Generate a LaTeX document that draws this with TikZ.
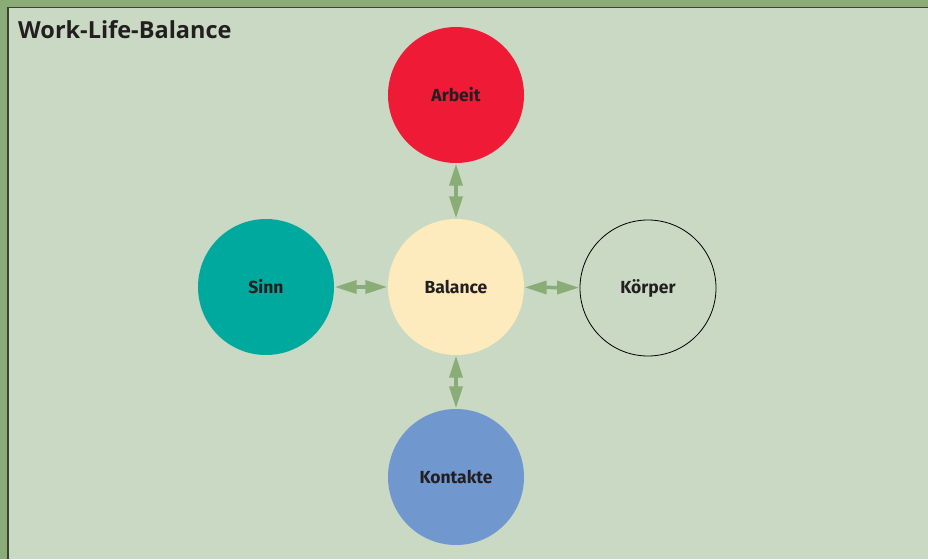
\documentclass[tikz,border=0pt]{standalone}
\usepackage{fontspec}
\setmainfont{Open Sans}
\newfontfamily\lblfont{Fira Sans}
\usetikzlibrary{arrows.meta}
\definecolor{bordgreen}{HTML}{8AAD78}
\definecolor{panel}{HTML}{C9D9C4}
\definecolor{darkline}{HTML}{3A4234}
\definecolor{arbeitred}{HTML}{EE1A36}
\definecolor{sinnteal}{HTML}{00A99D}
\definecolor{cream}{HTML}{FDEBBD}
\definecolor{kontblue}{HTML}{7098CF}
\definecolor{txt}{HTML}{231F20}
\definecolor{arrgreen}{HTML}{8AAD78}
\tikzset{
  circ/.style={circle, minimum size=136pt, inner sep=0pt, text=txt, font=\lblfont\bfseries\fontsize{17.5}{20}\selectfont},
  link/.style={draw=arrgreen, line width=3.5pt, {Triangle[length=22pt,width=13pt]}-{Triangle[length=22pt,width=13pt]}, shorten <=0.5pt, shorten >=0.5pt}
}
\begin{document}
\begin{tikzpicture}[x=1pt,y=-1pt]
\useasboundingbox (0,0) rectangle (928,559);
\fill[bordgreen] (0,0) rectangle (928,559);
\fill[panel] (8,8) rectangle (928,559);
\draw[darkline, line width=1.5pt] (8,559) -- (8,7.5) -- (928,7.5);
\node[anchor=west, text=txt, inner sep=0pt, font=\bfseries\fontsize{23.5}{26}\selectfont] (title) at (18,30) {Work-Life-Balance};
\node[circ, fill=arbeitred] (arbeit) at (456,95) {Arbeit};
\node[circ, fill=cream] (balance) at (456,287) {Balance};
\node[circ, fill=sinnteal] (sinn) at (266,287) {Sinn};
\node[circ, draw=black, line width=0.8pt] (koerper) at (648,288) {Körper};
\node[circ, fill=kontblue] (kontakte) at (456,477) {Kontakte};
\draw[link] (arbeit) -- (balance);
\draw[link] (balance) -- (kontakte);
\draw[link] (sinn) -- (balance);
\draw[link] (balance) -- (koerper);
\end{tikzpicture}
\end{document}
